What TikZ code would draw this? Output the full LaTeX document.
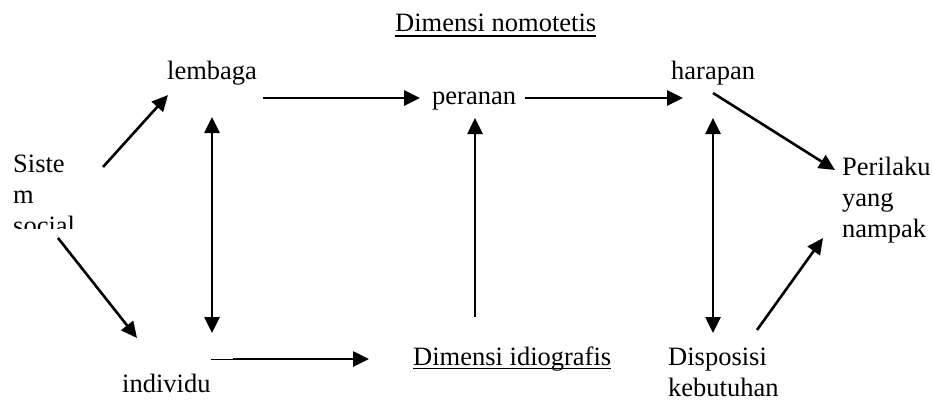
\documentclass[tikz,border=0pt]{standalone}
\usepackage{fontspec}
\setmainfont{Liberation Serif}
\usetikzlibrary{arrows.meta}

\begin{document}
\begin{tikzpicture}[x=1pt,y=-1pt,
	txt/.style={inner sep=0pt,anchor=base west,align=left,font=\fontsize{26.5}{31}\selectfont},
	arr/.style={line width=2.6pt,-{Triangle[length=16pt,width=15pt]}},
	both/.style={line width=2.6pt,{Triangle[length=16pt,width=15pt]}-{Triangle[length=16pt,width=15pt]}},
	uline/.style={line width=1.6pt}]
	\useasboundingbox (0,0) rectangle (933,404);
	
	%Labels of the two dimensions
	\node[txt] (nomotetis) at (395,32) {Dimensi nomotetis};
	\node[txt] (idiografis) at (413,365) {Dimensi idiografis};
	\draw[uline] ([yshift=-4pt]nomotetis.base west)--([yshift=-4pt]nomotetis.base east);
	\draw[uline] ([yshift=-3.5pt]idiografis.base west)--([yshift=-3.5pt]idiografis.base east);
	
	%Upper row
	\node[txt] (lembaga) at (167,79) {lembaga};
	\node[txt] (peranan) at (432,104) {peranan};
	\node[txt] (harapan) at (671,79) {harapan};
	
	%Lower row (multi-line nodes sit on their last line)
	\node[txt] (individu) at (122,392) {individu};
	\node[txt] (disposisi) at (668,396) {Disposisi\\kebutuhan};
	\node[txt] (perilaku) at (842,237) {Perilaku\\yang\\nampak};
	
	%Text box on the left, last line cut off
	\begin{scope}
		\clip (0,130) rectangle (120,228);
		\node[txt] (sistem) at (13,234) {Siste\\m\\social};
	\end{scope}
	
	%Ends of the arrows
	\coordinate (sistem-a) at (103,167);
	\coordinate (sistem-b) at (58,238);
	\coordinate (lembaga-a) at (168,95);
	\coordinate (lembaga-b) at (263,98);
	\coordinate (lembaga-c) at (212,117);
	\coordinate (individu-a) at (137,338);
	\coordinate (individu-b) at (212,333);
	\coordinate (individu-c) at (211,359);
	\coordinate (individu-d) at (233,359);
	\coordinate (idiografis-a) at (369,359);
	\coordinate (idiografis-b) at (475,317);
	\coordinate (peranan-a) at (420,98);
	\coordinate (peranan-b) at (525,98);
	\coordinate (peranan-c) at (475,118);
	\coordinate (harapan-a) at (683,98);
	\coordinate (harapan-b) at (713,93);
	\coordinate (harapan-c) at (713,118);
	\coordinate (disposisi-a) at (713,333);
	\coordinate (disposisi-b) at (757,330);
	\coordinate (perilaku-a) at (835,170);
	\coordinate (perilaku-b) at (823,238);
	
	%Arrows
	\draw[arr] (sistem-a)--(lembaga-a);
	\draw[arr] (sistem-b)--(individu-a);
	\draw[arr] (lembaga-b)--(peranan-a);
	\draw[arr] (peranan-b)--(harapan-a);
	\draw[arr] (harapan-b)--(perilaku-a);
	\draw[arr] (disposisi-b)--(perilaku-b);
	\draw[arr] (idiografis-b)--(peranan-c);
	\draw[both] (lembaga-c)--(individu-b);
	\draw[both] (harapan-c)--(disposisi-a);
	\draw[line width=1pt] (individu-c)--(individu-d);
	\draw[arr] (individu-d)--(idiografis-a);
\end{tikzpicture}
\end{document}
